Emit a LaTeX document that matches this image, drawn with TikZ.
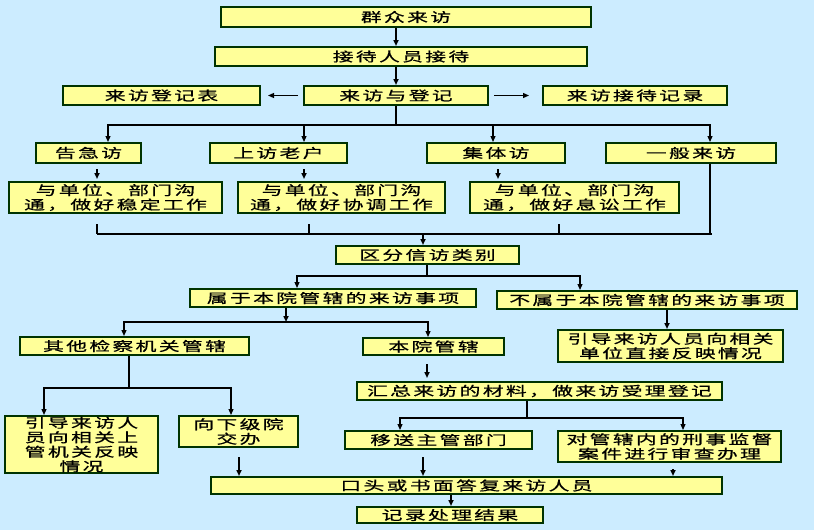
\documentclass[tikz,border=0pt]{standalone}
\usepackage{fontspec}
\setmainfont{Noto Sans CJK SC}[FakeStretch=1.6,LetterSpace=18,FakeBold=0.8]
\usepackage{tikz}
\usetikzlibrary{arrows.meta}
\usepackage{xcolor}
\definecolor{skyback}{HTML}{CCECFF}
\definecolor{boxfill}{HTML}{FFFF99}
\definecolor{boxedge}{HTML}{003300}
\tikzstyle{flowbox} = [draw=boxedge, fill=boxfill, line width=2pt, rectangle, inner sep=0pt, align=center, font=\fontsize{13}{14.5}\selectfont]
\tikzstyle{flowline} = [draw=black, line width=1.2pt]
\tikzstyle{flowarrow} = [flowline, -{Triangle[length=6pt,width=5pt]}]
\tikzstyle{stemline} = [draw=black, line width=2.2pt]
\tikzstyle{stemarrow} = [stemline, -{Triangle[length=6pt,width=5pt]}]

\begin{document}
\begin{tikzpicture}[x=1pt,y=-1pt]
\useasboundingbox[fill=skyback] (0,0) rectangle (814,530);

\node[flowbox, minimum width=370pt, minimum height=20pt] (visit) at (406,17) {群众来访};
\node[flowbox, minimum width=372pt, minimum height=19pt] (receive) at (401,56.5) {接待人员接待};
\node[flowbox, minimum width=197pt, minimum height=19pt] (regform) at (161.5,95.5) {来访登记表};
\node[flowbox, minimum width=184pt, minimum height=19pt] (register) at (396,95.5) {来访与登记};
\node[flowbox, minimum width=184pt, minimum height=19pt] (regrecord) at (635,95.5) {来访接待记录};

\node[flowbox, minimum width=105pt, minimum height=20pt] (urgent) at (88.5,153) {告急访};
\node[flowbox, minimum width=137pt, minimum height=20pt] (oldcase) at (278.5,153) {上访老户};
\node[flowbox, minimum width=138pt, minimum height=20pt] (group) at (496,153) {集体访};
\node[flowbox, minimum width=170pt, minimum height=20pt] (general) at (691,153) {一般来访};

\node[flowbox, minimum width=213pt, minimum height=31pt] (commA) at (115.5,197.5) {与单位、部门沟\\通，做好稳定工作};
\node[flowbox, minimum width=207pt, minimum height=31pt] (commB) at (341.5,197.5) {与单位、部门沟\\通，做好协调工作};
\node[flowbox, minimum width=209pt, minimum height=31pt] (commC) at (574.5,197.5) {与单位、部门沟\\通，做好息讼工作};

\node[flowbox, minimum width=183pt, minimum height=18pt] (classify) at (427.5,255) {区分信访类别};
\node[flowbox, minimum width=286pt, minimum height=18pt] (within) at (333,298) {属于本院管辖的来访事项};
\node[flowbox, minimum width=300pt, minimum height=18pt] (outside) at (647,300) {不属于本院管辖的来访事项};
\node[flowbox, minimum width=225pt, minimum height=32pt] (guideunit) at (670.5,346) {引导来访人员向相关\\单位直接反映情况};
\node[flowbox, minimum width=229pt, minimum height=18pt] (otherorg) at (134.5,346) {其他检察机关管辖};
\node[flowbox, minimum width=141pt, minimum height=17pt] (ourcourt) at (433.5,346.5) {本院管辖};
\node[flowbox, minimum width=365pt, minimum height=18pt] (summary) at (539.5,391) {汇总来访的材料，做来访受理登记};

\node[flowbox, minimum width=153pt, minimum height=57pt] (guideup) at (81.5,444.5) {引导来访人\\员向相关上\\管机关反映\\情况};
\node[flowbox, minimum width=119pt, minimum height=31pt] (lower) at (238.5,431.5) {向下级院\\交办};
\node[flowbox, minimum width=187pt, minimum height=18pt] (transfer) at (438.5,440) {移送主管部门};
\node[flowbox, minimum width=223pt, minimum height=31pt] (review) at (669.5,446.5) {对管辖内的刑事监督\\案件进行审查办理};
\node[flowbox, minimum width=511pt, minimum height=17pt] (reply) at (466.5,485.5) {口头或书面答复来访人员};
\node[flowbox, minimum width=186pt, minimum height=16pt] (result) at (450,515) {记录处理结果};

\coordinate (j1) at (396,125);
\coordinate (j2) at (423,234);
\coordinate (j3) at (427,276);
\coordinate (j4) at (286,322);
\coordinate (j6) at (129,388);
\coordinate (j7) at (527,418);
\coordinate (c1) at ([xshift=-18.5,yshift=-10]commA.south);
\coordinate (c2) at ([xshift=-32.5,yshift=-10]commB.south);
\coordinate (c3) at ([xshift=-15.5,yshift=-10]commC.south);
\coordinate (c4) at (712,234);

\draw[stemarrow] (visit.south -| j1) -- (receive.north -| j1);
\draw[stemarrow] (receive.south -| j1) -- (register.north);
\draw[flowarrow, shorten <=5pt, shorten >=7pt] (register.west) -- (regform.east);
\draw[flowarrow, shorten <=5pt, shorten >=13pt] (register.east) -- (regrecord.west);
\draw[stemline] (register.south) -- (j1);
\draw[flowarrow] (j1) -| ([xshift=19.5]urgent.north);
\draw[flowarrow] (j1) -| ([xshift=25.5]oldcase.north);
\draw[flowarrow] (j1) -| ([xshift=-3]group.north);
\draw[flowarrow] (j1) -| ([xshift=19]general.north);

\draw[stemarrow, shorten <=5pt, shorten >=2pt] ([xshift=8.5]urgent.south) -- ([xshift=-18.5]commA.north);
\draw[stemarrow, shorten <=5pt, shorten >=2pt] ([xshift=25.5]oldcase.south) -- ([xshift=-37.5]commB.north);
\draw[stemarrow, shorten <=5pt, shorten >=2pt] ([xshift=2]group.south) -- ([xshift=-76.5]commC.north);

\draw[stemline] (c1) -- (c1 |- j2);
\draw[stemline] (c2) -- (c2 |- j2);
\draw[stemline] (c3) -- (c3 |- j2);
\draw[stemline] ([xshift=19]general.south) -- ([xshift=19]general.south |- j2);
\draw[flowline] (c1 |- j2) -- (c4);
\draw[stemarrow] (j2) -- (classify.north -| j2);

\draw[stemline] (classify.south -| j3) -- (j3);
\draw[flowarrow] (j3) -| ([xshift=-36]within.north);
\draw[flowarrow] (j3) -| ([xshift=-67]outside.north);

\draw[stemarrow] (within.south -| j4) -- (j4);
\draw[flowarrow] (j4) -| ([xshift=-10.5]otherorg.north);
\draw[flowarrow] (j4) -| ([xshift=-5.5]ourcourt.north);
\draw[stemarrow] ([xshift=20]outside.south) -- ([xshift=-3.5]guideunit.north);

\draw[stemline] (otherorg.south -| j6) -- (j6);
\draw[flowarrow] (j6) -| ([xshift=-37.5]guideup.north);
\draw[flowarrow] (j6) -| ([xshift=-7.5]lower.north);
\draw[stemarrow, shorten <=8pt, shorten >=3pt] ([xshift=-6.5]ourcourt.south) -- ([xshift=-112.5]summary.north);

\draw[stemline] (summary.south -| j7) -- (j7);
\draw[flowarrow] (j7) -| ([xshift=-38.5]transfer.north);
\draw[flowarrow] (j7) -| ([xshift=13.5]review.north);

\draw[stemarrow, shorten <=9pt] ([xshift=0.5]lower.south) -- ([xshift=-227.5]reply.north);
\draw[stemarrow, shorten <=7pt] ([xshift=-15.5]transfer.south) -- ([xshift=-43.5]reply.north);
\draw[stemarrow, shorten <=6pt] ([xshift=3.5]review.south) -- ([xshift=206.5]reply.north);
\draw[stemarrow] ([xshift=-15.5]reply.south) -- ([xshift=1]result.north);
\end{tikzpicture}
\end{document}
